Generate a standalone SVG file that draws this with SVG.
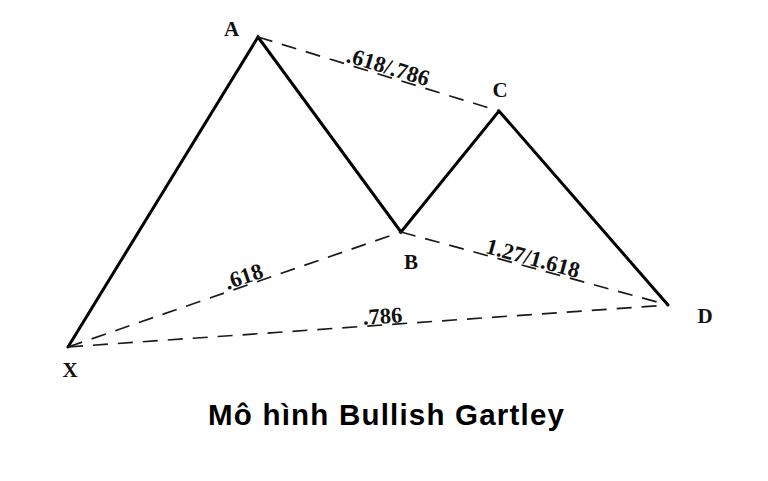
<svg xmlns="http://www.w3.org/2000/svg" width="768" height="481" viewBox="0 0 768 481">
<style>
.leg{fill:none;stroke:#000;stroke-width:3;stroke-linejoin:miter;stroke-linecap:round}
.ret{fill:none;stroke:#1a1a1a;stroke-width:1.7;stroke-dasharray:15 10}
.pt{font-family:"Liberation Serif","Times New Roman",serif;font-weight:bold;font-size:21px;fill:#111;text-anchor:middle}
.rl{font-family:"Liberation Serif","Times New Roman",serif;font-weight:bold;font-size:22.5px;fill:#111;text-anchor:middle}
.title{font-family:"Liberation Sans",Arial,sans-serif;font-weight:bold;font-size:29.5px;fill:#000;text-anchor:middle}
</style>
<rect width="768" height="481" fill="#fff"/>
<g id="connectors">
<polyline class="leg" points="68,347 258,37 401,232 499,111 668,305"/>
<line class="ret" x1="258" y1="37" x2="499" y2="111"/>
<line class="ret" x1="68" y1="347" x2="401" y2="232"/>
<line class="ret" x1="401" y1="232" x2="668" y2="305"/>
<line class="ret" x1="68" y1="347" x2="668" y2="305"/>
</g>
<g id="ratio-AC"><text class="rl" transform="translate(386,74) rotate(16.9)">.618/.786</text></g>
<g id="ratio-XB"><text class="rl" transform="translate(246,283.5) rotate(-19.06)">.618</text></g>
<g id="ratio-XD"><text class="rl" transform="translate(383,323.5) rotate(-4)">.786</text></g>
<g id="ratio-BD"><text class="rl" transform="translate(531,265.5) rotate(15.3)">1.27/1.618</text></g>
<g id="node-X"><text class="pt" x="70" y="377">X</text></g>
<g id="node-A"><text class="pt" x="231.5" y="36">A</text></g>
<g id="node-B"><text class="pt" x="411" y="269">B</text></g>
<g id="node-C"><text class="pt" x="500" y="97">C</text></g>
<g id="node-D"><text class="pt" x="705" y="323">D</text></g>
<g id="title"><text class="title" x="386" y="425" textLength="356" lengthAdjust="spacing">Mô hình Bullish Gartley</text></g>
</svg>
